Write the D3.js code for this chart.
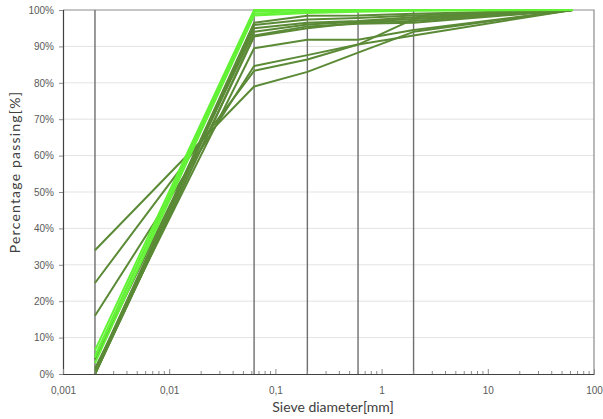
<!DOCTYPE html>
<html>
<head>
<meta charset="utf-8">
<script src="https://cdn.jsdelivr.net/npm/d3@7/dist/d3.min.js"></script>
<style>
  html, body { margin: 0; padding: 0; background: #ffffff; }
  svg { display: block; font-family: Lato, "Liberation Sans", sans-serif; }
</style>
</head>
<body>
<svg id="chart" width="603" height="419"></svg>
<script>
// Sieve sizes [mm] at which passing percentages were measured
const sieveSizes = [0.002, 0.063, 0.2, 0.6, 2, 63];

// Reference sieves drawn as vertical guide lines
const guideSieves = [0.002, 0.063, 0.2, 0.6, 2];

// Grading curves, percent passing at each sieve size
const curvesDark = [
  [34, 79, 83, 88.3, 94, 100],
  [25, 83.3, 86.4, 90.5, 93, 100],
  [16, 84.6, 87.6, 90.5, 97.5, 100],
  [1.5, 89.5, 91.8, 91.8, 94.5, 100],
  [0, 92.7, 95, 96.5, 97, 100],
  [4, 94, 96, 96.8, 97.5, 100],
  [0, 95, 96.5, 97, 98, 100],
  [0, 95.9, 97.4, 97.8, 98.5, 100],
  [1, 96.5, 98.4, 98.5, 99, 100],
  [0, 93, 95.5, 96.2, 96.5, 100]
];
const curvesBright = [
  [6.5, 100, 100, 100, 100, 100],
  [5, 99.5, 100, 100, 100, 100],
  [4.5, 99, 99.6, 99.8, 100, 100],
  [3, 98.5, 99.2, 99.5, 99.8, 100]
];

// Axis tick labels
const xTickValues = [0.001, 0.01, 0.1, 1, 10, 100];
const xTickLabels = ["0,001", "0,01", "0,1", "1", "10", "100"];
const yTickValues = [0, 10, 20, 30, 40, 50, 60, 70, 80, 90, 100];

const svg = d3.select("#chart");
const plotLeft = 63, plotRight = 594, plotTop = 10, plotBottom = 374;

const x = d3.scaleLog().domain([0.001, 100]).range([plotLeft, plotRight]);
const y = d3.scaleLinear().domain([0, 100]).range([plotBottom, plotTop]);

// Horizontal gridlines
svg.append("g")
  .selectAll("line")
  .data(yTickValues.filter(v => v > 0 && v < 100))
  .join("line")
  .attr("x1", plotLeft).attr("x2", plotRight)
  .attr("y1", d => y(d)).attr("y2", d => y(d))
  .attr("stroke", "#e3e3e3").attr("stroke-width", 1);

// Top and right frame
svg.append("path")
  .attr("d", `M${plotLeft},${y(100)}H${plotRight}V${plotBottom}`)
  .attr("fill", "none").attr("stroke", "#8c8c8c").attr("stroke-width", 1.2);

// Vertical guide lines at the reference sieves
svg.append("g")
  .selectAll("line")
  .data(guideSieves)
  .join("line")
  .attr("x1", d => x(d)).attr("x2", d => x(d))
  .attr("y1", plotTop).attr("y2", plotBottom)
  .attr("stroke", "#6e6e6e").attr("stroke-width", 1.4);

// Grading curves
const line = d3.line()
  .x((d, i) => x(sieveSizes[i]))
  .y(d => y(d));

svg.append("g")
  .selectAll("path")
  .data(curvesDark)
  .join("path")
  .attr("d", line)
  .attr("fill", "none")
  .attr("stroke", "#5b8a36")
  .attr("stroke-width", 2)
  .attr("stroke-linejoin", "round");

svg.append("g")
  .selectAll("path")
  .data(curvesBright)
  .join("path")
  .attr("d", line)
  .attr("fill", "none")
  .attr("stroke", "#63f236")
  .attr("stroke-width", 2)
  .attr("stroke-linejoin", "round");

// Y axis
const yAxis = d3.axisLeft(y)
  .tickValues(yTickValues)
  .tickFormat(d => d + "%")
  .tickSize(4)
  .tickPadding(5);
const gy = svg.append("g").attr("transform", `translate(${plotLeft},0)`).call(yAxis);
gy.select(".domain").attr("stroke", "#404040").attr("stroke-width", 1.2);
gy.selectAll(".tick line").attr("stroke", "#8c8c8c");
gy.selectAll("text").attr("fill", "#595959").style("font-size", "10px");

// X axis: minor ticks point up into the plot
const minorTicks = [];
for (let e = -3; e < 2; e++) {
  for (let m = 2; m <= 9; m++) minorTicks.push(m * Math.pow(10, e));
}
svg.append("g")
  .selectAll("line")
  .data(minorTicks)
  .join("line")
  .attr("x1", d => x(d)).attr("x2", d => x(d))
  .attr("y1", plotBottom).attr("y2", plotBottom - 3)
  .attr("stroke", "#8c8c8c").attr("stroke-width", 1);

const xAxis = d3.axisBottom(x)
  .tickValues(xTickValues)
  .tickFormat((d, i) => xTickLabels[i])
  .tickSizeInner(-5)
  .tickSizeOuter(0)
  .tickPadding(13);
const gx = svg.append("g").attr("transform", `translate(0,${plotBottom})`).call(xAxis);
gx.select(".domain").attr("stroke", "#404040").attr("stroke-width", 1.2);
gx.selectAll(".tick line").attr("stroke", "#8c8c8c");
gx.selectAll("text").attr("fill", "#595959").style("font-size", "10px");

// Axis titles
svg.append("text")
  .attr("x", 333)
  .attr("y", 412)
  .attr("text-anchor", "middle")
  .attr("fill", "#404040")
  .style("font-size", "14px")
  .text("Sieve diameter[mm]");

svg.append("text")
  .attr("transform", "translate(20,172) rotate(-90)")
  .attr("text-anchor", "middle")
  .attr("fill", "#404040")
  .style("font-size", "14px")
  .style("letter-spacing", "1.2px")
  .text("Percentage passing[%]");
</script>
</body>
</html>
